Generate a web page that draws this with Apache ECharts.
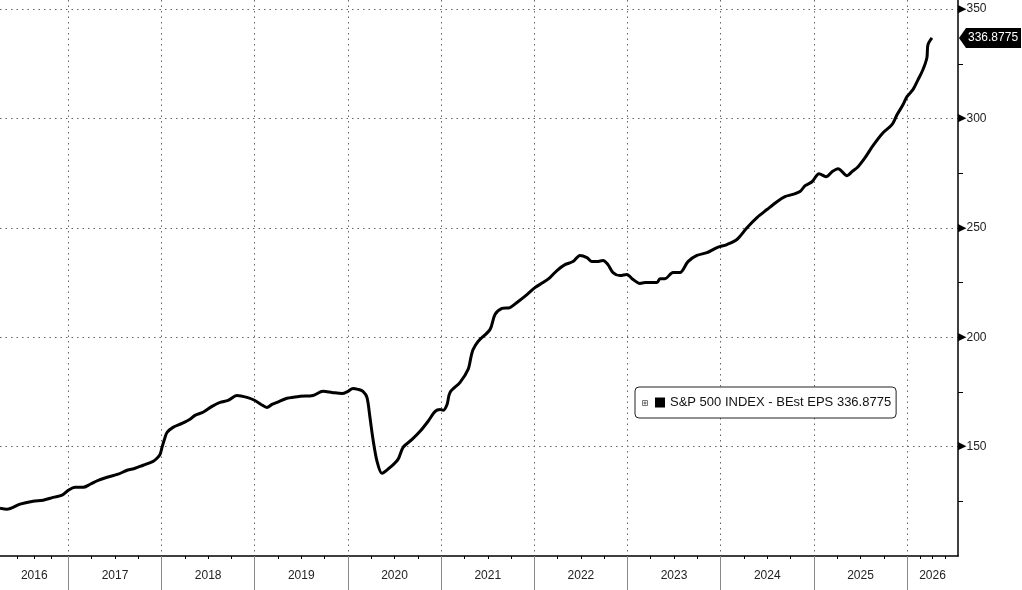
<!DOCTYPE html>
<html>
<head>
<meta charset="utf-8">
<script src="https://cdn.jsdelivr.net/npm/echarts@6/dist/echarts.min.js"></script>
<style>
html,body{margin:0;padding:0;background:#fff;}
#chart{width:1022px;height:590px;}
</style>
</head>
<body>
<div id="chart"></div>
<script>
// Time positions as decimal years
const yearFrac = [
  2016.267,2016.342,2016.482,2016.621,2016.729,2016.836,2016.932,2016.997,2017.072,2017.158,
  2017.233,2017.319,2017.415,2017.533,2017.630,2017.716,2017.801,2017.909,2017.951,2017.984,
  2018.005,2018.037,2018.059,2018.123,2018.220,2018.306,2018.359,2018.445,2018.542,2018.628,
  2018.714,2018.810,2018.918,2019.003,2019.068,2019.132,2019.186,2019.240,2019.347,2019.487,
  2019.626,2019.733,2019.830,2019.937,2020.002,2020.055,2020.109,2020.162,2020.205,2020.237,
  2020.270,2020.313,2020.366,2020.452,2020.538,2020.592,2020.688,2020.774,2020.860,2020.935,
  2020.988,2021.020,2021.063,2021.095,2021.203,2021.289,2021.321,2021.342,2021.396,2021.525,
  2021.578,2021.653,2021.739,2021.814,2021.921,2022.007,2022.093,2022.168,2022.243,2022.329,
  2022.415,2022.490,2022.565,2022.619,2022.673,2022.737,2022.791,2022.845,2022.920,2022.995,
  2023.049,2023.135,2023.188,2023.317,2023.349,2023.403,2023.489,2023.564,2023.650,2023.746,
  2023.854,2023.961,2024.068,2024.175,2024.283,2024.390,2024.497,2024.604,2024.690,2024.765,
  2024.851,2024.905,2024.980,2025.055,2025.130,2025.195,2025.259,2025.356,2025.409,2025.474,
  2025.549,2025.634,2025.742,2025.838,2025.892,2025.956,2025.999,2026.063,2026.117,2026.170,
  2026.213,2026.224,2026.267
];
// S&P 500 INDEX - BEst EPS
const epsValues = [
  121.8,121.4,123.7,125.0,125.5,126.8,127.8,130.0,131.4,131.4,
  132.8,134.6,136.0,137.4,139.2,140.1,141.5,143.3,144.7,146.5,
  149.7,154.2,156.5,158.8,160.6,162.5,164.3,165.7,168.4,170.2,
  171.1,173.4,172.5,171.1,169.3,167.9,169.3,170.2,172.1,173.0,
  173.4,175.3,174.8,174.3,175.3,176.6,176.2,175.3,172.5,163.4,
  153.3,143.3,137.8,140.5,144.2,149.7,153.3,157.0,161.6,166.1,
  167.0,166.6,169.3,174.8,179.4,185.3,191.2,194.4,198.1,203.6,
  210.4,213.2,213.6,215.9,219.5,222.7,225.0,227.3,230.5,233.2,
  234.6,237.4,236.4,234.6,234.6,235.1,233.2,229.6,228.2,228.7,
  226.8,224.6,225.0,225.0,226.8,226.8,229.6,229.6,234.6,237.4,
  238.7,241.0,242.4,244.7,250.1,254.7,258.4,262.0,264.3,265.2,
  266.6,269.3,271.1,274.8,273.4,275.7,277.1,273.9,275.7,278.0,
  282.1,287.6,293.5,297.2,301.7,306.3,310.0,313.2,317.7,322.3,
  327.8,333.7,336.8775
];
const seriesName = 'S&P 500 INDEX - BEst EPS';
const lastLabel = '336.8775';
const years = [2016,2017,2018,2019,2020,2021,2022,2023,2024,2025,2026];
const axisStartYear = 2016.267;
const axisEndYear = 2026.547;
const yMin = 100, yMax = 354.2, yStep = 50;

function toTime(y){
  const Y = Math.floor(y);
  const s = Date.UTC(Y,0,1), e = Date.UTC(Y+1,0,1);
  return s + (y - Y) * (e - s);
}
const seriesData = yearFrac.map((y,i)=>[toTime(y), epsValues[i]]);
const xMin = toTime(axisStartYear), xMax = toTime(axisEndYear);
const yearStarts = years.filter(Y => Date.UTC(Y,0,1) > xMin && Date.UTC(Y,0,1) < xMax).map(Y => Date.UTC(Y,0,1));
const FONT = '"Liberation Sans", Arial, sans-serif';
const DAY = 86400000;

const chart = echarts.init(document.getElementById('chart'), null, {renderer:'canvas'});
chart.setOption({
  useUTC: true,
  animation: false,
  backgroundColor: '#fff',
  grid: {left: 0, right: 64, top: 0, bottom: 34, containLabel: false},
  legend: {
    show: true,
    data: [{name: seriesName, icon: 'rect'}],
    left: 635, top: 387,
    itemWidth: 10, itemHeight: 10,
    padding: [9, 5, 9, 20],
    backgroundColor: '#fff',
    borderColor: '#222', borderWidth: 1, borderRadius: 4,
    formatter: n => n + ' ' + lastLabel,
    textStyle: {fontFamily: FONT, fontSize: 13, color: '#111'}
  },
  xAxis: {
    type: 'time',
    min: xMin, max: xMax,
    minInterval: 360*DAY, maxInterval: 370*DAY,
    axisLine: {show: true, lineStyle: {color: '#000', width: 1.5}},
    axisTick: {show: true, customValues: yearStarts, length: 34, lineStyle: {color: '#888', width: 1}},
    minorTick: {show: true, splitNumber: 4, length: 3, lineStyle: {color: '#000', width: 1}},
    axisLabel: {show: false},
    splitLine: {show: true, showMinLine: false, showMaxLine: false, lineStyle: {color: '#666', type: [1.5, 4], width: 1}}
  },
  yAxis: {
    type: 'value',
    position: 'right',
    min: yMin, max: yMax, interval: yStep,
    axisLine: {show: true, onZero: false, lineStyle: {color: '#000', width: 1.5}},
    axisTick: {show: false},
    minorTick: {show: true, splitNumber: 2, length: 5, lineStyle: {color: '#000', width: 1}},
    splitLine: {show: true, showMinLine: false, showMaxLine: false, lineStyle: {color: '#666', type: [1.5, 4], width: 1}},
    axisLabel: {
      margin: 0,
      formatter: v => (v % yStep === 0 && v > yMin) ? '{t|▶}{v|' + v + '}' : '',
      rich: {
        t: {fontSize: 11, color: '#000', fontFamily: '"DejaVu Sans"', padding: [0, 0, 0, 0]},
        v: {fontSize: 12, color: '#222', fontFamily: FONT}
      }
    }
  },
  series: [{
    name: seriesName,
    type: 'line',
    data: seriesData,
    showSymbol: false,
    symbol: 'none',
    smooth: 0.3,
    color: '#000',
    lineStyle: {color: '#000', width: 3}
  }]
});

function drawExtras(){
  const g = [];
  // Year labels centered within each visible year segment
  const yPix = chart.convertToPixel({gridIndex: 0}, [xMin, yMin])[1];
  years.forEach(Y => {
    const s = Math.max(Date.UTC(Y,0,1), xMin);
    const e = Math.min(Date.UTC(Y+1,0,1), xMax);
    if (e <= s) return;
    const ps = chart.convertToPixel({gridIndex: 0}, [s, yMin])[0];
    const pe = chart.convertToPixel({gridIndex: 0}, [e, yMin])[0];
    g.push({type: 'text', x: (ps+pe)/2, y: yPix + 20, style: {
      text: String(Y), fontFamily: FONT, fontSize: 12, fill: '#222', align: 'center', verticalAlign: 'middle'}});
  });
  // Last value tag on the right axis
  const lastVal = epsValues[epsValues.length - 1];
  const p = chart.convertToPixel({gridIndex: 0}, [xMax, lastVal]);
  const x0 = p[0] + 1, yc = p[1];
  g.push({type: 'polygon', shape: {points: [[x0, yc], [x0+7, yc-10], [1021, yc-10], [1021, yc+10], [x0+7, yc+10]]},
    style: {fill: '#000'}});
  g.push({type: 'text', x: x0 + 9, y: yc, style: {text: lastLabel, fontFamily: FONT, fontSize: 12, fill: '#fff', verticalAlign: 'middle'}});
  // small boxed plus icon in legend
  g.push({type: 'rect', shape: {x: 642.5, y: 400.5, width: 5, height: 5}, style: {fill: '#fff', stroke: '#777', lineWidth: 1}, z: 100});
  g.push({type: 'line', shape: {x1: 643.5, y1: 403, x2: 646.5, y2: 403}, style: {stroke: '#555', lineWidth: 1}, z: 100});
  g.push({type: 'line', shape: {x1: 645, y1: 401.5, x2: 645, y2: 404.5}, style: {stroke: '#555', lineWidth: 1}, z: 100});
  chart.setOption({graphic: {elements: g}});
}
drawExtras();
</script>
</body>
</html>
